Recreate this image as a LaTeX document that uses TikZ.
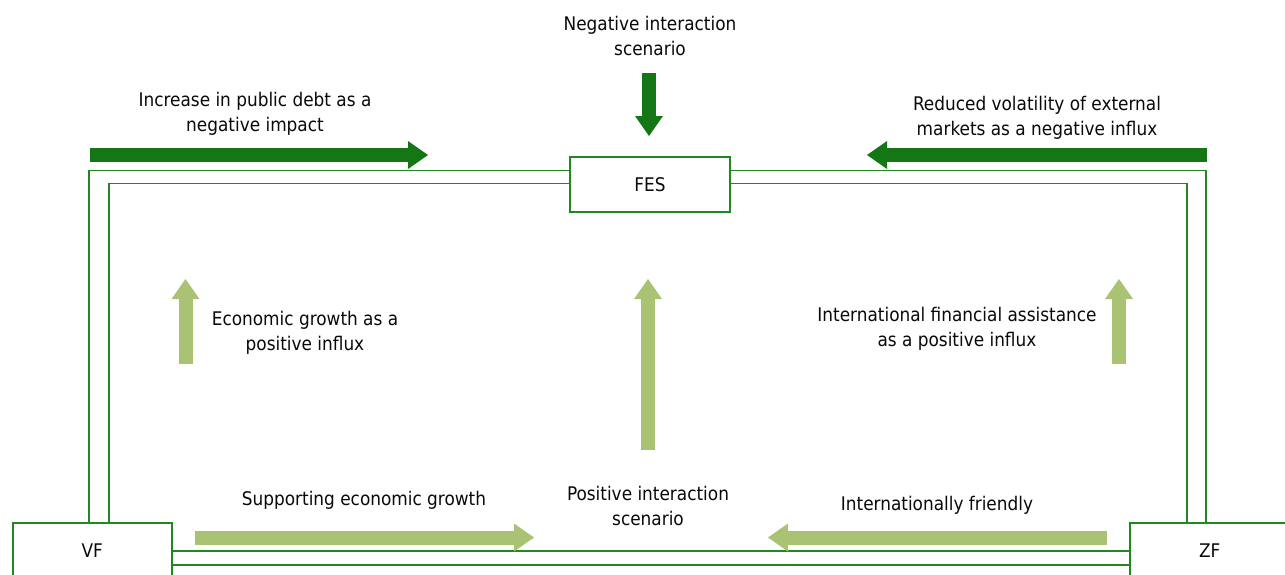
\documentclass[tikz,border=0pt]{standalone}
\usepackage{fontspec}
\setmainfont{DejaVu Sans Condensed}
\usetikzlibrary{arrows.meta,calc}
\definecolor{dkgreen}{RGB}{20,118,20}
\definecolor{lngreen}{RGB}{34,134,34}
\definecolor{ltgreen}{RGB}{169,194,116}
\definecolor{txt}{RGB}{10,10,10}
\tikzset{
  lbl/.style={text=txt, align=center, font=\fontsize{18.8}{24.5}\selectfont, inner sep=0pt},
  boxnode/.style={draw=lngreen, line width=1.5pt, fill=white, text=txt, font=\fontsize{18.8}{24.5}\selectfont, inner sep=0pt},
  link/.style={draw=lngreen, line width=1.5pt},
  darr/.style={draw=dkgreen, line width=14pt, -{Triangle[length=20pt,width=28pt,line width=0pt]}},
  larr/.style={draw=ltgreen, line width=14pt, -{Triangle[length=20pt,width=28pt,line width=0pt]}}
}
\begin{document}
\begin{tikzpicture}[x=1pt,y=-1pt]
\useasboundingbox (0,0) rectangle (1285,574);
\clip (0,0) rectangle (1285,574);
\fill[white] (0,0) rectangle (1285,574);
\node[boxnode, minimum width=160pt, minimum height=55pt] (FES) at (650,184.5) {FES};
\node[boxnode, minimum width=159pt, minimum height=56pt, anchor=north west] (VF) at (12,522) {VF};
\node[boxnode, minimum width=160pt, minimum height=56pt, anchor=north west] (ZF) at (1129,522) {ZF};
\coordinate (vfo) at ($(VF.north west)+(77,0)$);
\coordinate (vfi) at ($(VF.north west)+(97,0)$);
\coordinate (zfo) at ($(ZF.north west)+(77,0)$);
\coordinate (zfi) at ($(ZF.north west)+(58,0)$);
\draw[link] (vfo) |- ($(FES.north west)+(0,14)$);
\draw[link] (vfi) |- ($(FES.north west)+(0,27)$);
\draw[link] ($(FES.north east)+(0,14)$) -| (zfo);
\draw[link] ($(FES.north east)+(0,27)$) -| (zfi);
\draw[link] ($(VF.north east)+(0,29)$) -- ($(ZF.north west)+(0,29)$);
\draw[link] ($(VF.north east)+(0,43)$) -- ($(ZF.north west)+(0,43)$);
% dark arrows
\draw[darr] (90,155) -- (428,155);
\draw[darr] (1207,155) -- (867,155);
\draw[darr] (649,73) -- (649,136);
% light arrows
\draw[larr] (185.5,364) -- (185.5,279);
\draw[larr] (648,450) -- (648,279);
\draw[larr] (1119,364) -- (1119,279);
\draw[larr] (195,537.5) -- (534,537.5);
\draw[larr] (1107,537.5) -- (768,537.5);
% labels
\node[lbl] (t1) at (650,36) {Negative interaction\\scenario};
\node[lbl] (t2) at (255,114) {Increase in public debt as a\\negative impact};
\node[lbl] (t3) at (1037,118) {Reduced volatility of external\\markets as a negative influx};
\node[lbl] (t4) at (305,333) {Economic growth as a\\positive influx};
\node[lbl] (t5) at (957,329) {International financial assistance\\as a positive influx};
\node[lbl] (t6) at (364,500) {Supporting economic growth};
\node[lbl] (t7) at (648,506) {Positive interaction\\scenario};
\node[lbl] (t8) at (937,505) {Internationally friendly};
\end{tikzpicture}
\end{document}
